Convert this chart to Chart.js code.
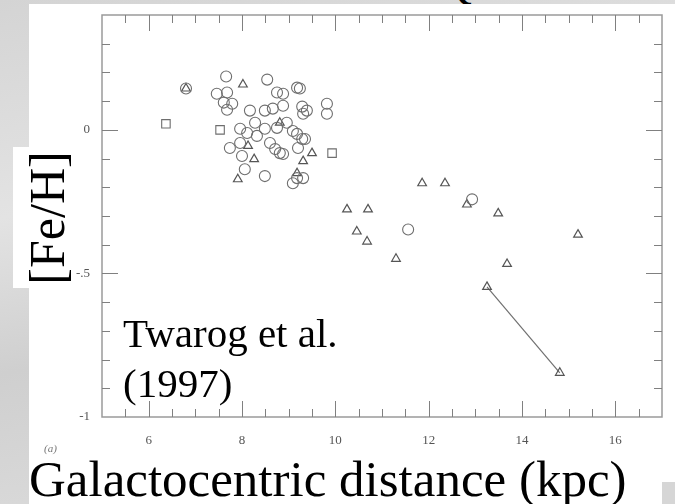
<!DOCTYPE html>
<html>
<head>
<meta charset="utf-8">
<script src="https://cdn.jsdelivr.net/npm/chart.js@4.4.1/dist/chart.umd.min.js"></script>
<style>
    body { margin: 0; }
    #stage {
        position: relative; width: 675px; height: 504px; overflow: hidden;
        background: linear-gradient(170deg, #d4d4d4 0%, #e3e3e3 35%, #cfcfcf 60%, #e0e0e0 100%);
        font-family: 'Liberation Serif', 'Times New Roman', serif;
    }
    #panel { position: absolute; left: 29px; top: 4px; right: 0; bottom: 0; background: #fff; }
    #corner { position: absolute; left: 662px; top: 482px; width: 13px; height: 22px; background: #d6d6d6; }
    #chartBox { position: absolute; left: 0; top: 0; width: 675px; height: 504px; }
    .txt { position: absolute; color: #000; white-space: nowrap; line-height: 1; }
    #yTitle {
        position: absolute; left: 13px; top: 147px; width: 57px; height: 141px; background: #fff;
    }
    #yTitle span {
        position: absolute; left: 34px; top: 50%; font-size: 50px; line-height: 1;
        transform: translate(-50%, -50%) rotate(-90deg); white-space: nowrap;
    }
    #topQ { position: absolute; left: 440px; top: 0; width: 40px; height: 4px; overflow: hidden; }
    #topQ span { position: absolute; left: 0; top: -38px; font-size: 44px; line-height: 1; }
</style>
</head>
<body>
<div id="stage">
    <div id="panel"></div>
    <div id="corner"></div>
    <div id="topQ"><span>Q</span></div>
    <div id="chartBox"><canvas id="feh-chart" width="675" height="504"></canvas></div>
    <div id="yTitle"><span>[Fe/H]</span></div>
    <div class="txt" style="left:123px; top:313px; font-size:41px;">Twarog et al.</div>
    <div class="txt" style="left:123px; top:363px; font-size:41px;">(1997)</div>
    <div class="txt" style="left:44px; top:443px; font-size:11px; color:#777; font-style:italic;">(a)</div>
    <div class="txt" style="left:29px; top:454px; font-size:51px;">Galactocentric distance (kpc)</div>
</div>
<script>
// cluster data
const circleDist = [7.66, 7.46, 7.68, 7.61, 7.79, 7.68, 6.80, 8.54, 8.75, 8.88, 9.18, 9.24,
    8.49, 8.66, 8.88, 9.29, 9.31, 9.39, 9.82, 9.82, 8.28, 7.96, 8.11, 8.32, 7.74, 7.96,
    8.00, 8.06, 8.49, 8.96, 9.18, 9.29, 9.35, 9.20, 8.60, 8.71, 8.81, 8.88, 9.31, 9.09,
    9.18, 8.49, 8.75, 8.17, 9.09, 11.56, 12.93];
const circleFeH = [0.186, 0.126, 0.130, 0.095, 0.091, 0.070, 0.144, 0.175, 0.130, 0.126, 0.147, 0.144,
    0.067, 0.074, 0.084, 0.081, 0.056, 0.067, 0.091, 0.056, 0.025, 0.004, -0.011, -0.021, -0.063, -0.046,
    -0.091, -0.137, -0.161, 0.025, -0.014, -0.032, -0.032, -0.063, -0.046, -0.067, -0.081, -0.084, -0.168, -0.186,
    -0.168, 0.004, 0.007, 0.067, -0.004, -0.347, -0.242];

const triangleDist = [6.80, 8.02, 8.13, 8.26, 7.91, 8.81, 9.50, 9.31, 9.18, 10.25, 10.70,
    10.46, 10.68, 11.30, 11.86, 12.35, 12.82, 13.49, 13.68, 13.25, 15.20, 14.81];
const triangleFeH = [0.144, 0.158, -0.056, -0.102, -0.172, 0.025, -0.081, -0.109, -0.151, -0.277, -0.277,
    -0.354, -0.389, -0.449, -0.186, -0.186, -0.260, -0.291, -0.467, -0.547, -0.365, -0.846];

const squareDist = [6.37, 7.53, 9.93];
const squareFeH = [0.021, 0.0, -0.081];

// the two triangles joined by a line
const lineDist = [13.25, 14.81];
const lineFeH = [-0.547, -0.846];

const xTickValues = [6, 8, 10, 12, 14, 16];
const yTickValues = [-1, -0.5, 0];
const yTickLabels = ['-1', '-.5', '0'];

print = console.log;
window.addEventListener('load', function () {
    fehChart();
})

function toPoints(xs, ys) {
    return xs.map((v, i) => ({ x: v, y: ys[i] }));
}

// inward ticks on all four sides plus the full frame
const frameTicks = {
    id: 'frameTicks',
    afterDraw(chart) {
        const { ctx, chartArea: a, scales: { x, y } } = chart;
        ctx.save();
        ctx.strokeStyle = '#9a9a9a';
        ctx.lineWidth = 1.5;
        ctx.strokeRect(a.left, a.top, a.right - a.left, a.bottom - a.top);

        ctx.strokeStyle = '#808080';
        ctx.lineWidth = 1;
        ctx.beginPath();
        for (let k = 1; k < (x.max - x.min) * 2; k++) {
            const v = x.min + k * 0.5;
            const px = Math.round(x.getPixelForValue(v)) + 0.5;
            const len = (v % 2 === 0) ? 16 : 8;
            ctx.moveTo(px, a.bottom); ctx.lineTo(px, a.bottom - len);
            ctx.moveTo(px, a.top); ctx.lineTo(px, a.top + len);
        }
        for (let k = 1; k < Math.round((y.max - y.min) * 10); k++) {
            const v = y.min + k * 0.1;
            const py = Math.round(y.getPixelForValue(v)) + 0.5;
            const major = Math.abs(v * 2 - Math.round(v * 2)) < 1e-6;
            const len = major ? 16 : 8;
            ctx.moveTo(a.left, py); ctx.lineTo(a.left + len, py);
            ctx.moveTo(a.right, py); ctx.lineTo(a.right - len, py);
        }
        ctx.stroke();
        ctx.restore();
    }
};

function fehChart() {
    const ctx = document.getElementById('feh-chart').getContext('2d');
    const markColor = '#6e6e6e';
    const myChart = new Chart(ctx, {
        type: 'scatter',
        data: {
            datasets: [{
                label: 'circles',
                data: toPoints(circleDist, circleFeH),
                pointStyle: 'circle',
                pointRadius: 5.5,
                borderColor: markColor,
                backgroundColor: 'rgba(0,0,0,0)',
                borderWidth: 1.1
            }, {
                label: 'triangles',
                data: toPoints(triangleDist, triangleFeH),
                pointStyle: 'triangle',
                pointRadius: 5,
                borderColor: '#555',
                backgroundColor: 'rgba(0,0,0,0)',
                borderWidth: 1.2
            }, {
                label: 'squares',
                data: toPoints(squareDist, squareFeH),
                pointStyle: 'rect',
                pointRadius: 6,
                borderColor: markColor,
                backgroundColor: 'rgba(0,0,0,0)',
                borderWidth: 1.1
            }, {
                label: 'link',
                data: toPoints(lineDist, lineFeH),
                showLine: true,
                pointRadius: 0,
                borderColor: '#707070',
                borderWidth: 1.2
            }]
        },
        options: {
            responsive: false,
            animation: false,
            layout: { padding: { left: 0, top: 15, right: 13, bottom: 0 } },
            plugins: {
                legend: { display: false },
                tooltip: { enabled: false }
            },
            scales: {
                x: {
                    type: 'linear',
                    min: 5,
                    max: 17,
                    afterBuildTicks: (scale) => { scale.ticks = xTickValues.map(v => ({ value: v })); },
                    afterFit: (scale) => { scale.height = 87; },
                    grid: { display: false },
                    border: { display: false },
                    ticks: {
                        color: '#555',
                        font: { family: 'Liberation Serif', size: 13 },
                        padding: 8,
                        maxRotation: 0
                    }
                },
                y: {
                    type: 'linear',
                    min: -1,
                    max: 0.4,
                    afterBuildTicks: (scale) => { scale.ticks = yTickValues.map(v => ({ value: v })); },
                    afterFit: (scale) => { scale.width = 102; },
                    grid: { display: false },
                    border: { display: false },
                    ticks: {
                        color: '#555',
                        font: { family: 'Liberation Serif', size: 13 },
                        padding: 4,
                        callback: (v) => yTickLabels[yTickValues.indexOf(v)]
                    }
                }
            }
        },
        plugins: [frameTicks]
    });
}
</script>
</body>
</html>
